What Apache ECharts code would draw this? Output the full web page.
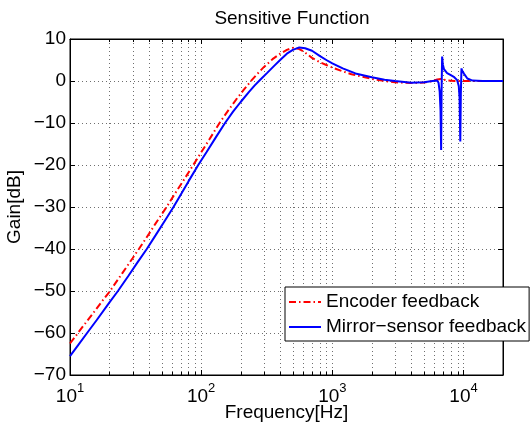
<!DOCTYPE html>
<html>
<head>
<meta charset="utf-8">
<script src="https://cdn.jsdelivr.net/npm/echarts@6.0.0/dist/echarts.min.js"></script>
<style>
  html, body { margin: 0; padding: 0; background: #fff; }
  #main { width: 530px; height: 425px; }
</style>
</head>
<body>
<div id="main"></div>
<script>
  // Encoder feedback (red, dash-dot)
  var freqEnc = [10, 12.5, 15, 17.5, 20.2, 25, 30, 33.5, 40, 45, 54.5, 65, 75, 87, 100, 115, 138, 160, 185, 210, 241, 270, 300, 350, 400, 450, 500, 550, 600, 700, 800, 900, 1000, 1200, 1400, 1700, 2000, 2500, 3000, 4000, 5000, 5800, 6300, 6700, 7100, 7600, 8500, 10000, 14000, 20000];
  var gainEnc = [-62.5, -58.5, -55.3, -52.5, -50, -45.8, -42.2, -40, -36.4, -33.9, -30, -26.2, -23.2, -20, -17.0, -14.0, -10, -7.1, -4.4, -2.2, 0.1, 1.8, 3.3, 5.2, 6.5, 7.4, 7.9, 7.7, 7.1, 5.5, 4.5, 3.8, 3.2, 2.3, 1.6, 1.0, 0.5, 0, -0.3, -0.5, -0.35, 0, 0.35, 0.5, 0.3, 0.1, 0, 0, 0, 0];

  // Mirror-sensor feedback (blue, solid)
  var freqMir = [10, 11.5, 13.5, 16, 20, 23.2, 28, 33, 38.5, 45, 53, 61.5, 70, 80, 95, 110, 130, 152, 175, 200, 230, 255, 282, 320, 360, 400, 450, 500, 560, 620, 700, 800, 900, 1000, 1200, 1500, 2000, 2500, 3000, 4000, 5000, 5800, 6300, 6450, 6580, 6680, 6750, 6800, 6870, 6950, 7100, 7500, 8000, 8500, 8950, 9200, 9330, 9450, 9540, 9650, 9750, 10100, 10700, 11700, 14000, 20000];
  var gainMir = [-65.5, -62.95, -60, -56.9, -52.7, -50, -46.3, -43.0, -40, -36.7, -33.2, -30, -27.0, -23.9, -20, -16.9, -13.3, -10, -7.3, -5.0, -2.7, -1.1, 0.3, 2.0, 3.6, 5.0, 6.5, 7.4, 8.0, 7.8, 7.2, 6.0, 5.0, 4.2, 3.0, 1.8, 0.9, 0.3, 0, -0.4, -0.3, 0, 0.1, -0.4, -2.5, -7, -16.4, -3, 5.8, 4.0, 2.8, 1.9, 1.4, 0.9, 0.2, -1.2, -4, -14.4, -3, 3.0, 2.5, 1.7, 0.6, 0.1, 0, 0];

  // log-decade minor grid positions
  var minorFreqs = [20, 30, 40, 50, 60, 70, 80, 90, 200, 300, 400, 500, 600, 700, 800, 900, 2000, 3000, 4000, 5000, 6000, 7000, 8000, 9000];

  var FONT = 'Liberation Sans, Arial, Helvetica, sans-serif';
  var GRID_COLOR = '#6f6f6f';
  var FS = 19;

  function zip(xs, ys) {
    return xs.map(function (x, i) { return [x, ys[i]]; });
  }

  var myChart = echarts.init(document.getElementById('main'));
  var option = {
    animation: false,
    backgroundColor: '#fff',
    title: {
      text: 'Sensitive Function',
      left: 287,
      textAlign: 'center',
      top: 4,
      textStyle: { fontFamily: FONT, fontSize: FS, fontWeight: 'normal', color: '#000' }
    },
    legend: {
      data: ['Encoder feedback', 'Mirror\u2212sensor feedback'],
      orient: 'vertical',
      left: 285,
      top: 287,
      itemWidth: 32,
      itemHeight: 14,
      itemGap: 3,
      padding: [4, 3, 3, 3],
      borderColor: '#000',
      borderWidth: 1,
      borderRadius: 0,
      backgroundColor: '#fff',
      itemStyle: { opacity: 0 },
      textStyle: { fontFamily: FONT, fontSize: FS, color: '#000', lineHeight: 22 }
    },
    grid: {
      left: 70, right: 27, top: 39, bottom: 50,
      outerBoundsMode: 'none',
      containLabel: false,
      show: true, borderColor: '#000', borderWidth: 1, backgroundColor: '#fff'
    },
    xAxis: [
      {
        type: 'log', logBase: 10, min: 10, max: 20000, position: 'bottom',
        name: 'Frequency[Hz]', nameLocation: 'middle', nameGap: 28, nameMoveOverlap: false,
        nameTextStyle: { fontFamily: FONT, fontSize: FS, color: '#000' },
        axisLine: { show: true, onZero: false, lineStyle: { color: '#000', width: 1 } },
        axisTick: { show: true, inside: true, length: 5, lineStyle: { color: '#000' } },
        axisLabel: {
          margin: 7,
          color: '#000',
          formatter: function (v) {
            var p = Math.log10(v);
            var n = Math.round(p);
            if (Math.abs(p - n) > 1e-6) return '';
            return '{b|10}{s|' + n + '}';
          },
          rich: {
            b: { fontFamily: FONT, fontSize: FS, color: '#000', verticalAlign: 'bottom', lineHeight: 24 },
            s: { fontFamily: FONT, fontSize: 13, color: '#000', verticalAlign: 'top', lineHeight: 24 }
          }
        },
        splitLine: { show: true, lineStyle: { color: GRID_COLOR, width: 1, type: [1, 3] } }
      },
      {
        type: 'log', logBase: 10, min: 10, max: 20000, position: 'top',
        axisLine: { show: true, onZero: false, lineStyle: { color: '#000', width: 1 } },
        axisTick: { show: true, inside: true, length: 5, lineStyle: { color: '#000' } },
        axisLabel: { show: false },
        splitLine: { show: false }
      }
    ],
    yAxis: [
      {
        type: 'value', min: -70, max: 10, interval: 10, position: 'left',
        name: 'Gain[dB]', nameLocation: 'middle', nameGap: 46, nameRotate: 90, nameMoveOverlap: false,
        nameTextStyle: { fontFamily: FONT, fontSize: FS, color: '#000' },
        axisLine: { show: true, onZero: false, lineStyle: { color: '#000', width: 1 } },
        axisTick: { show: true, inside: true, length: 5, lineStyle: { color: '#000' } },
        axisLabel: {
          margin: 4, fontFamily: FONT, fontSize: FS, color: '#000',
          formatter: function (v) { return v < 0 ? '\u2212' + (-v) : String(v); }
        },
        splitLine: { show: true, lineStyle: { color: GRID_COLOR, width: 1, type: [1, 3] } }
      },
      {
        type: 'value', min: -70, max: 10, interval: 10, position: 'right',
        axisLine: { show: true, onZero: false, lineStyle: { color: '#000', width: 1 } },
        axisTick: { show: true, inside: true, length: 5, lineStyle: { color: '#000' } },
        axisLabel: { show: false },
        splitLine: { show: false }
      }
    ],
    series: [
      {
        name: 'minor-grid',
        type: 'custom',
        xAxisIndex: 0, yAxisIndex: 0,
        silent: true,
        z: 1,
        data: minorFreqs.map(function (f) { return [f, 0]; }),
        encode: { x: 0, y: 1 },
        renderItem: function (params, api) {
          var f = api.value(0);
          var pTop = api.coord([f, 10]);
          var pBot = api.coord([f, -70]);
          var x = Math.round(pTop[0]) + 0.5;
          return {
            type: 'group',
            children: [
              { type: 'line', shape: { x1: x, y1: pTop[1], x2: x, y2: pBot[1] },
                style: { stroke: GRID_COLOR, lineWidth: 1, lineDash: [1, 3] } },
              { type: 'line', shape: { x1: x, y1: pBot[1], x2: x, y2: pBot[1] - 3 },
                style: { stroke: '#000', lineWidth: 1 } },
              { type: 'line', shape: { x1: x, y1: pTop[1], x2: x, y2: pTop[1] + 3 },
                style: { stroke: '#000', lineWidth: 1 } }
            ]
          };
        }
      },
      {
        name: 'Encoder feedback',
        type: 'line',
        xAxisIndex: 0, yAxisIndex: 0,
        symbol: 'none',
        z: 3,
        itemStyle: { color: '#ff0000' },
        lineStyle: { color: '#ff0000', width: 2, type: [7, 3, 1.5, 3] },
        data: zip(freqEnc, gainEnc)
      },
      {
        name: 'Mirror\u2212sensor feedback',
        type: 'line',
        xAxisIndex: 0, yAxisIndex: 0,
        symbol: 'none',
        z: 4,
        itemStyle: { color: '#0000ff' },
        lineStyle: { color: '#0000ff', width: 2, type: 'solid' },
        data: zip(freqMir, gainMir)
      }
    ]
  };
  myChart.setOption(option);
</script>
</body>
</html>
